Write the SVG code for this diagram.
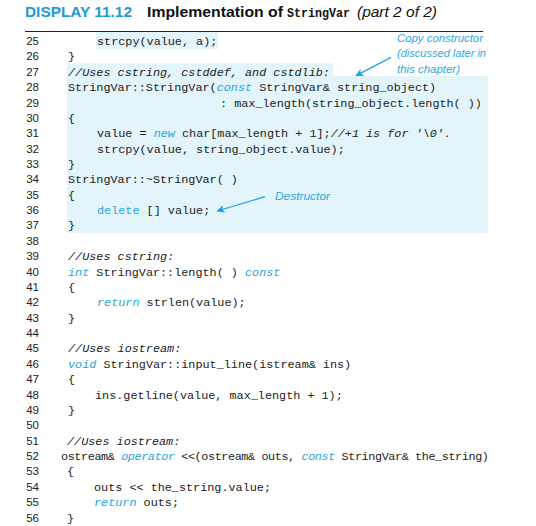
<svg xmlns="http://www.w3.org/2000/svg" width="536" height="526" viewBox="0 0 536 526">
<defs>
<style>
.ln{font-family:"Liberation Sans",Arial,sans-serif;font-size:11.5px;fill:#222;text-anchor:end}
.c{font-family:"Liberation Mono","DejaVu Sans Mono",monospace;font-size:11.8px;fill:#222;white-space:pre}
.k{fill:#1fa5e0;font-style:italic}
.ku{fill:#1fa5e0}
.cm{font-style:italic}
.hl{fill:#e3f4fb}
.ann{font-family:"Liberation Sans",Arial,sans-serif;font-size:10.5px;font-style:italic;fill:#2aa9e3}
.arr{stroke:#1fa5e0;stroke-width:1.3;fill:none;marker-end:url(#ah)}
</style>
<marker id="ah" viewBox="0 0 10 10" refX="9" refY="5" markerWidth="8" markerHeight="8" markerUnits="userSpaceOnUse" orient="auto">
<path d="M0,0 L10,5 L0,10 L2.5,5 Z" fill="#1fa5e0"/>
</marker>
</defs>
<rect width="536" height="526" fill="#fff"/>
<g id="title">
<text x="25" y="17" font-family="'Liberation Sans',Arial,sans-serif" font-size="15" font-weight="bold" fill="#1a9cd8" textLength="107" lengthAdjust="spacingAndGlyphs">DISPLAY 11.12</text>
<text x="147" y="17" font-family="'Liberation Sans',Arial,sans-serif" font-size="15" font-weight="bold" fill="#111" textLength="136" lengthAdjust="spacingAndGlyphs">Implementation of</text>
<text x="287" y="17" font-family="'Liberation Mono',monospace" font-size="12.5" font-weight="bold" fill="#111" textLength="63" lengthAdjust="spacingAndGlyphs">StringVar</text>
<text x="357" y="17" font-family="'Liberation Sans',Arial,sans-serif" font-size="15" font-style="italic" fill="#111" textLength="80" lengthAdjust="spacingAndGlyphs">(part 2 of 2)</text>
<line x1="25" y1="31.5" x2="483" y2="31.5" stroke="#222" stroke-width="1"/>
</g>
<g id="highlight">
<rect class="hl" x="96" y="32" width="122" height="17"/>
<rect class="hl" x="67" y="63.3" width="266" height="13"/>
<rect class="hl" x="67" y="76" width="421" height="157"/>
</g>
<g id="line-numbers">
<text class="ln" x="39" y="45">25</text>
<text class="ln" x="39" y="60.4">26</text>
<text class="ln" x="39" y="75.7">27</text>
<text class="ln" x="39" y="91.1">28</text>
<text class="ln" x="39" y="106.5">29</text>
<text class="ln" x="39" y="121.9">30</text>
<text class="ln" x="39" y="137.2">31</text>
<text class="ln" x="39" y="152.6">32</text>
<text class="ln" x="39" y="168">33</text>
<text class="ln" x="39" y="183.3">34</text>
<text class="ln" x="39" y="198.7">35</text>
<text class="ln" x="39" y="214.1">36</text>
<text class="ln" x="39" y="229.4">37</text>
<text class="ln" x="39" y="244.8">38</text>
<text class="ln" x="39" y="260.2">39</text>
<text class="ln" x="39" y="275.6">40</text>
<text class="ln" x="39" y="290.9">41</text>
<text class="ln" x="39" y="306.3">42</text>
<text class="ln" x="39" y="321.7">43</text>
<text class="ln" x="39" y="337">44</text>
<text class="ln" x="39" y="352.4">45</text>
<text class="ln" x="39" y="367.8">46</text>
<text class="ln" x="39" y="383.1">47</text>
<text class="ln" x="39" y="398.5">48</text>
<text class="ln" x="39" y="413.9">49</text>
<text class="ln" x="39" y="429.3">50</text>
<text class="ln" x="39" y="444.6">51</text>
<text class="ln" x="39" y="460">52</text>
<text class="ln" x="39" y="475.4">53</text>
<text class="ln" x="39" y="490.7">54</text>
<text class="ln" x="39" y="506.1">55</text>
<text class="ln" x="39" y="521.5">56</text>
</g>
<g id="code">
<text class="c" x="97" y="45">strcpy(value, a);</text>
<text class="c" x="68" y="60.4">}</text>
<text class="c cm" x="68" y="75.7">//Uses cstring, cstddef, and cstdlib:</text>
<text class="c" x="68" y="91.1">StringVar::StringVar(<tspan class="k">const</tspan> StringVar&amp; string_object)</text>
<text class="c" x="220" y="106.5">: max_length(string_object.length( ))</text>
<text class="c" x="68" y="121.9">{</text>
<text class="c" x="97" y="137.2">value = <tspan class="k">new</tspan> char[max_length + 1];<tspan class="cm">//+1 is for '\0'.</tspan></text>
<text class="c" x="97" y="152.6">strcpy(value, string_object.value);</text>
<text class="c" x="68" y="168">}</text>
<text class="c" x="68" y="183.3">StringVar::~StringVar( )</text>
<text class="c" x="68" y="198.7">{</text>
<text class="c" x="97" y="214.1"><tspan class="ku">delete</tspan> [] value;</text>
<text class="c" x="68" y="229.4">}</text>
<text class="c cm" x="68" y="260.2">//Uses cstring:</text>
<text class="c" x="68" y="275.6"><tspan class="k">int</tspan> StringVar::length( ) <tspan class="k">const</tspan></text>
<text class="c" x="68" y="290.9">{</text>
<text class="c" x="97" y="306.3"><tspan class="k">return</tspan> strlen(value);</text>
<text class="c" x="68" y="321.7">}</text>
<text class="c cm" x="68" y="352.4">//Uses iostream:</text>
<text class="c" x="68" y="367.8"><tspan class="k">void</tspan> StringVar::input_line(istream&amp; ins)</text>
<text class="c" x="68" y="383.1">{</text>
<text class="c" x="95" y="398.5">ins.getline(value, max_length + 1);</text>
<text class="c" x="68" y="413.9">}</text>
<text class="c cm" x="67" y="444.6">//Uses iostream:</text>
<text class="c" x="61" y="460" letter-spacing="-0.4">ostream&amp; <tspan class="k">operator</tspan> &lt;&lt;(ostream&amp; outs, <tspan class="k">const</tspan> StringVar&amp; the_string)</text>
<text class="c" x="67" y="475.4">{</text>
<text class="c" x="94" y="490.7">outs &lt;&lt; the_string.value;</text>
<text class="c" x="94" y="506.1"><tspan class="k">return</tspan> outs;</text>
<text class="c" x="67" y="521.5">}</text>
</g>
<g id="note-copy-constructor">
<text class="ann" x="397" y="41.5" textLength="86" lengthAdjust="spacingAndGlyphs">Copy constructor</text>
<text class="ann" x="397" y="57" textLength="89" lengthAdjust="spacingAndGlyphs">(discussed later in</text>
<text class="ann" x="397" y="72.5" textLength="63" lengthAdjust="spacingAndGlyphs">this chapter)</text>
</g>
<g id="note-destructor">
<text class="ann" x="275" y="200" textLength="55" lengthAdjust="spacingAndGlyphs">Destructor</text>
</g>
<g id="connectors">
<line class="arr" x1="391" y1="57.3" x2="356" y2="75.7"/>
<line class="arr" x1="265" y1="196.7" x2="217.3" y2="211"/>
</g>
</svg>
